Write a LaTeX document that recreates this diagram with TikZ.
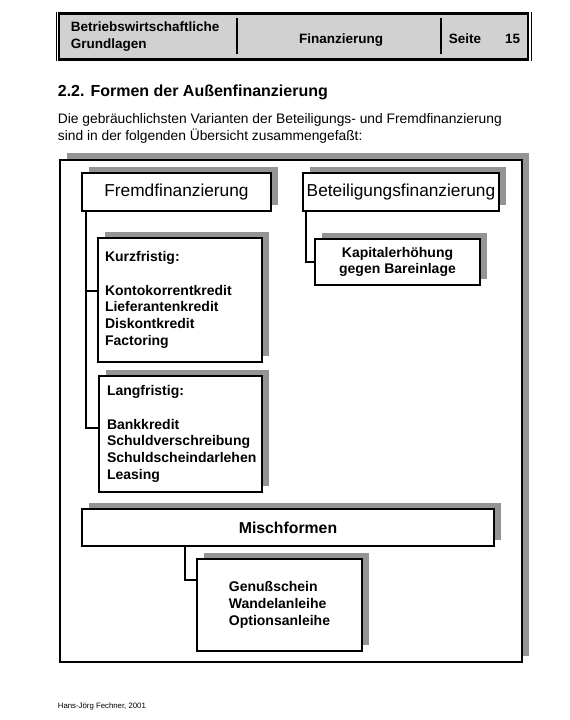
\documentclass[tikz,border=0pt]{standalone}
\usepackage{fontspec}
\setmainfont{Liberation Sans}
\usetikzlibrary{shadows}

\begin{document}
\begin{tikzpicture}
	[x=1pt,y=-1pt,line width=1.8pt,
		base box/.style={draw,fill=white,line width=1.8pt,inner sep=0pt,
			drop shadow={shadow xshift=6.5pt,shadow yshift=6.5pt,fill=black!42,opacity=1}},
		head text/.style={inner sep=0pt,font=\fontsize{13.5}{17}\selectfont\bfseries},
		item text/.style={font=\fontsize{14}{16.7}\selectfont\bfseries},
		big text/.style={font=\fontsize{17.3}{20}\selectfont}]

	\useasboundingbox (0,0) rectangle (570,720);

	% Kopfzeile
	\node[draw,fill=black!18,line width=2.2pt,minimum width=469pt,minimum height=46pt,inner sep=0pt] (kopf) at (293.5,36.5) {};
	\draw[line width=0.7pt] ([xshift=-2pt]kopf.north west) -- ([xshift=-2pt]kopf.south west)
		([xshift=2pt]kopf.north east) -- ([xshift=2pt]kopf.south east);
	\draw[line width=2pt] (237,18) -- (237,54) (441,18) -- (441,54);
	\node[head text,anchor=west,align=left] (fach) at (70,37) {Betriebswirtschaftliche\\Grundlagen};
	\node[head text,anchor=base] (thema) at (341,43) {Finanzierung};
	\node[head text,anchor=base west] (seite) at (448,43) {Seite};
	\node[head text,anchor=base east] (nr) at (521,43) {15};

	\node[inner sep=0pt,anchor=west,font=\fontsize{16}{20}\selectfont\bfseries] (titel) at (57,92) {2.2. Formen der Außenfinanzierung};
	\node[inner sep=0pt,anchor=west,align=left,font=\fontsize{13.8}{17}\selectfont] (einl) at (57,128.5)
		{Die gebräuchlichsten Varianten der Beteiligungs- und Fremdfinanzierung\\sind in der folgenden Übersicht zusammengefaßt:};

	% Uebersicht
	\node[base box,minimum width=462pt,minimum height=502pt,drop shadow={shadow xshift=7pt,shadow yshift=7pt,fill=black!42,opacity=1}] (rahmen) at (291,411) {};

	\node[base box,big text,minimum width=189pt,minimum height=38pt] (fremd) at (176.5,192) {Fremdfinanzierung};
	\node[base box,big text,minimum width=196pt,minimum height=38pt] (beteil) at (401,192) {Beteiligungsfinanzierung};
	\node[base box,item text,align=center,minimum width=165pt,minimum height=46pt] (kapital) at (397.5,262) {Kapitalerhöhung\\gegen Bareinlage};

	\node[base box,item text,align=left,text width=150pt,inner xsep=7pt,minimum height=124pt] (kurz) at (180,300)
		{Kurzfristig:\\[16.7pt]Kontokorrentkredit\\Lieferantenkredit\\Diskontkredit\\Factoring};
	\node[base box,item text,align=left,text width=147pt,inner xsep=8pt,minimum height=116pt] (lang) at (180.5,434)
		{Langfristig:\\[16.7pt]Bankkredit\\Schuldverschreibung\\Schuldscheindarlehen\\Leasing};

	\node[base box,font=\fontsize{15.8}{18}\selectfont\bfseries,minimum width=412pt,minimum height=37pt] (misch) at (288,527.5) {Mischformen};
	\node[base box,item text,align=left,minimum width=165pt,minimum height=92pt] (genuss) at (279.5,605)
		{Genußschein\\Wandelanleihe\\Optionsanleihe};

	\draw ([xshift=5pt]fremd.south west) |- ([yshift=9pt]kurz.west);
	\draw ([xshift=5pt]fremd.south west) |- ([yshift=6pt]lang.west);
	\draw ([xshift=4pt]beteil.south west) |- (kapital.west);
	\draw ([xshift=104pt]misch.south west) |- ([yshift=25pt]genuss.west);
	% \draw (misch.south) -- (genuss.north);

	\node[inner sep=0pt,anchor=west,font=\fontsize{7.8}{9}\selectfont] (fuss) at (57,706) {Hans-Jörg Fechner, 2001};
\end{tikzpicture}
\end{document}
